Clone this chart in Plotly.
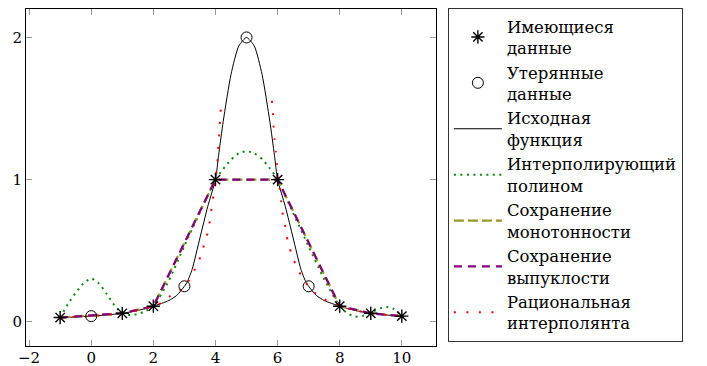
import plotly.graph_objects as go

# ---- data ----
x_known = [-1, 1, 2, 4, 6, 8, 9, 10]
y_known = [0.03, 0.06, 0.11, 1.0, 1.0, 0.11, 0.06, 0.04]

x_lost = [0, 3, 5, 7]
y_lost = [0.04, 0.25, 2.0, 0.25]

x_orig = [-1, -0.5, 0, 0.5, 1, 1.5, 2, 2.5, 2.75, 3, 3.1, 3.25, 3.5, 3.75, 4, 4.1, 4.25,
          4.5, 4.75, 5, 5.25, 5.5, 5.75, 5.9, 6, 6.25, 6.5, 6.75, 6.9, 7, 7.25, 7.5, 8,
          8.5, 9, 9.5, 10]
y_orig = [0.03, 0.034, 0.04, 0.048, 0.06, 0.08, 0.11, 0.15, 0.185, 0.25, 0.285, 0.37, 0.59,
          0.81, 1.0, 1.17, 1.41, 1.74, 1.94, 2.0, 1.94, 1.74, 1.41, 1.17, 1.0, 0.81, 0.59,
          0.37, 0.285, 0.25, 0.185, 0.15, 0.11, 0.08, 0.06, 0.048, 0.04]

x_poly = [-1, -0.75, -0.5, -0.25, 0, 0.25, 0.5, 0.75, 1, 1.25, 1.5, 1.75, 2, 2.5, 3, 3.5,
          4, 4.25, 4.5, 4.75, 5, 5.25, 5.5, 5.75, 6, 6.5, 7, 7.5, 8, 8.25, 8.5, 8.75, 9,
          9.25, 9.5, 9.75, 10]
y_poly = [0.03, 0.125, 0.205, 0.27, 0.305, 0.27, 0.195, 0.115, 0.06, 0.048, 0.055, 0.076,
          0.11, 0.29, 0.535, 0.77, 1.0, 1.075, 1.14, 1.185, 1.20, 1.185, 1.145, 1.08, 1.0,
          0.765, 0.53, 0.30, 0.11, 0.06, 0.037, 0.042, 0.065, 0.09, 0.105, 0.09, 0.04]

x_shape = [-1, 0, 1, 2, 2.5, 3, 3.5, 4, 5, 6, 6.5, 7, 7.5, 8, 9, 10]
y_mono = [0.03, 0.045, 0.06, 0.11, 0.33, 0.555, 0.78, 1.0, 1.0, 1.0, 0.78, 0.555, 0.33, 0.11, 0.06, 0.04]
y_conv = [0.03, 0.045, 0.06, 0.11, 0.33, 0.555, 0.78, 1.0, 1.0, 1.0, 0.78, 0.555, 0.33, 0.11, 0.06, 0.04]

x_rat_left = [-1, -0.5, 0, 0.5, 1, 1.5, 2, 2.28, 2.63, 2.95, 3.19, 3.38, 3.54, 3.65, 3.77,
              3.83, 3.89, 3.95, 4.0, 4.05, 4.08, 4.1, 4.13, 4.15, 4.19]
y_rat_left = [0.03, 0.034, 0.04, 0.048, 0.06, 0.08, 0.11, 0.136, 0.197, 0.234, 0.307, 0.389,
              0.471, 0.557, 0.642, 0.733, 0.822, 0.909, 1.0, 1.09, 1.174, 1.263, 1.354, 1.443, 1.532]
x_rat_right = [5.82, 5.85, 5.87, 5.9, 5.94, 5.98, 6.0, 6.07, 6.12, 6.17, 6.25, 6.32, 6.43,
               6.57, 6.75, 7.0, 7.27, 7.64, 8.0, 8.42, 9.0, 9.5, 10]
y_rat_right = [1.555, 1.467, 1.377, 1.286, 1.197, 1.11, 1.0, 0.933, 0.841, 0.752, 0.666, 0.576,
               0.49, 0.408, 0.328, 0.248, 0.19, 0.143, 0.11, 0.084, 0.06, 0.048, 0.04]

x_ticks = [-2, 0, 2, 4, 6, 8, 10]
y_ticks = [0, 1, 2]

names = ["Имеющиеся<br>данные", "Утерянные<br>данные", "Исходная<br>функция",
         "Интерполирующий<br>полином", "Сохранение<br>монотонности",
         "Сохранение<br>выпуклости", "Рациональная<br>интерполянта"]

FONT = "DejaVu Serif"

fig = go.Figure()
fig.add_trace(go.Scatter(x=x_orig, y=y_orig, mode="lines", name=names[2], legendrank=3,
                         line=dict(color="black", width=1, shape="spline", smoothing=0.6)))
fig.add_trace(go.Scatter(x=x_poly, y=y_poly, mode="lines", name=names[3], legendrank=4,
                         line=dict(color="#0a8a0a", width=2, dash="2px,4.5px", shape="spline", smoothing=0.6)))
fig.add_trace(go.Scatter(x=x_shape, y=y_mono, mode="lines", name=names[4], legendrank=5,
                         line=dict(color="#999926", width=2.2, dash="10px,4px")))
fig.add_trace(go.Scatter(x=x_shape, y=y_conv, mode="lines", name=names[5], legendrank=6,
                         line=dict(color="#800080", width=2.2, dash="8px,6px")))
fig.add_trace(go.Scatter(x=x_rat_left + [None] + x_rat_right,
                         y=y_rat_left + [None] + y_rat_right, mode="lines", name=names[6],
                         legendrank=7,
                         line=dict(color="red", width=2, dash="2px,10.5px", shape="spline", smoothing=0.5)))
fig.add_trace(go.Scatter(x=x_known, y=y_known, mode="markers", name=names[0], legendrank=1,
                         marker=dict(symbol="asterisk-open", size=11, color="black",
                                     line=dict(color="black", width=1.4))))
fig.add_trace(go.Scatter(x=x_lost, y=y_lost, mode="markers", name=names[1], legendrank=2,
                         marker=dict(symbol="circle-open", size=11, color="black",
                                     line=dict(color="black", width=1))))

axis_common = dict(showline=True, linecolor="black", linewidth=1, mirror="allticks",
                   ticks="inside", ticklen=6, tickcolor="#999999", tickwidth=1,
                   showgrid=False, zeroline=False, automargin=False,
                   tickfont=dict(family=FONT, size=15, color="black"))

fig.update_layout(
    width=707, height=366,
    margin=dict(l=26, r=271, t=9, b=20, autoexpand=False),
    paper_bgcolor="white", plot_bgcolor="white",
    font=dict(family=FONT, size=15, color="black"),
    xaxis=dict(range=[-2.1, 11.1], tickvals=x_ticks, ticklabelstandoff=-2, **axis_common),
    yaxis=dict(range=[-0.17, 2.2], tickvals=y_ticks, **axis_common),
    legend=dict(x=1.029, y=1.003, xanchor="left", yanchor="top",
                bordercolor="#333333", borderwidth=1, bgcolor="white",
                font=dict(family=FONT, size=16.5, color="black"),
                itemwidth=48, tracegroupgap=0, maxheight=360,
                entrywidth=200, entrywidthmode="pixels"),
    showlegend=True,
)

fig.write_html("out.html", config={"displayModeBar": False},
               post_script="document.body.style.margin='0';")
